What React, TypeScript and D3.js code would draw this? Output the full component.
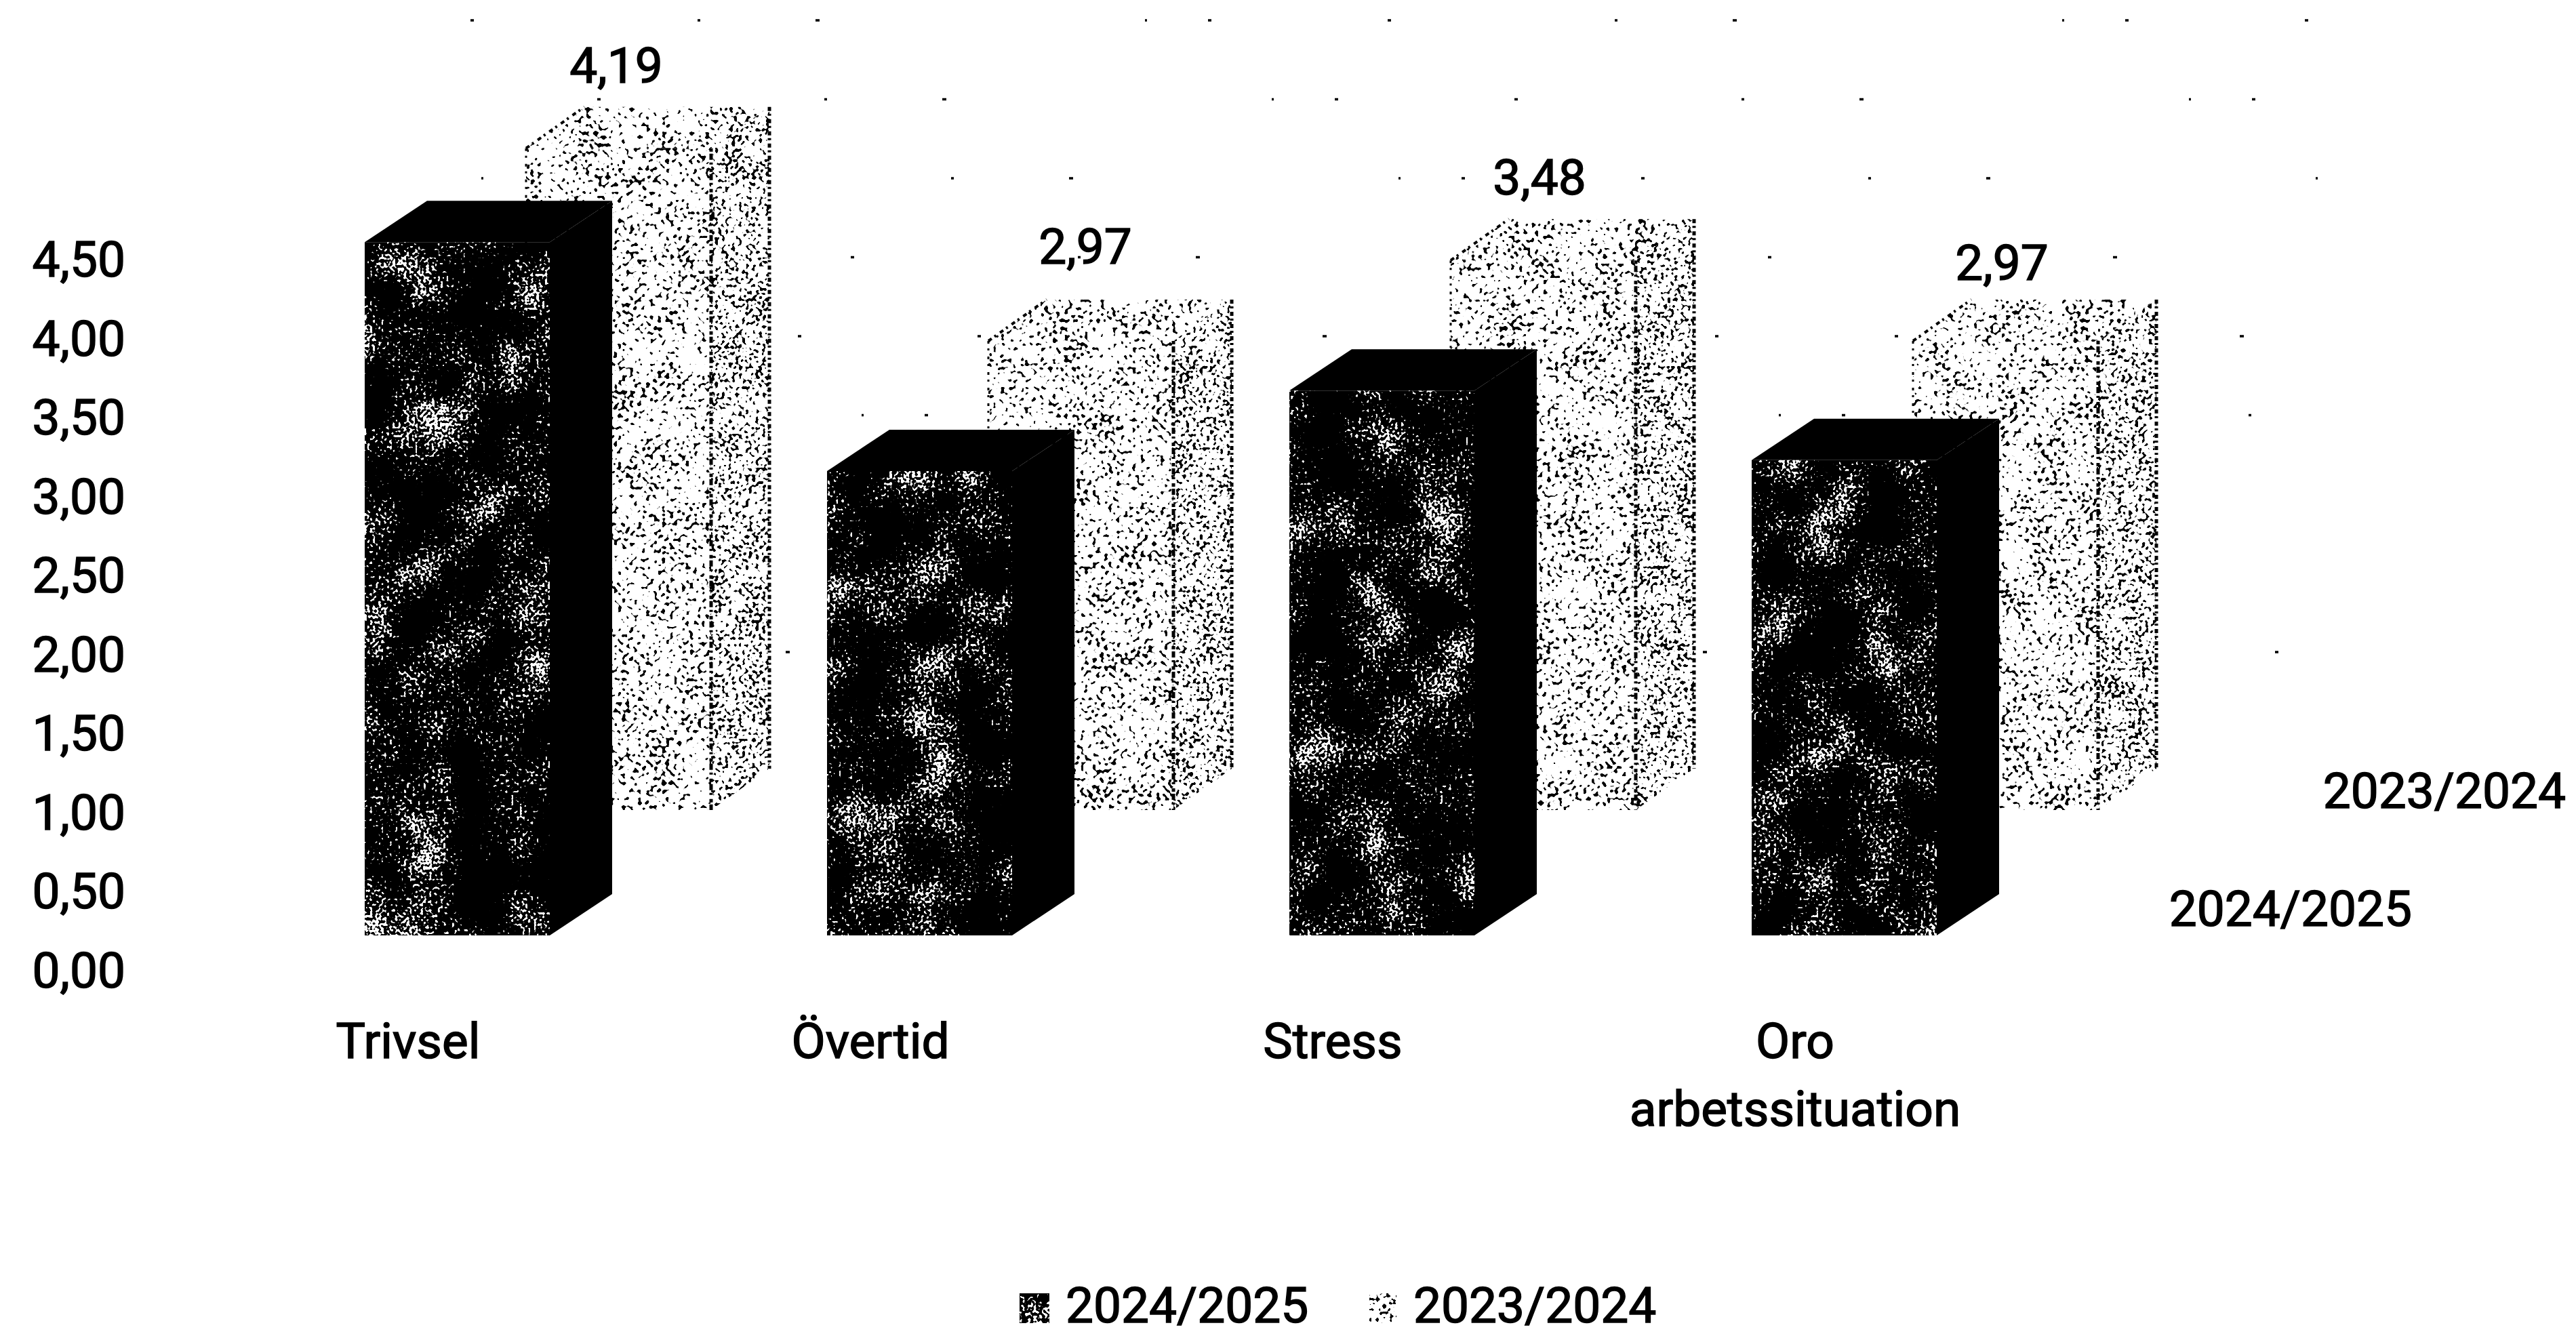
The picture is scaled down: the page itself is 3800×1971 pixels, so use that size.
import React from "react";
import * as d3 from "d3";

const categories = ["Trivsel", "Övertid", "Stress", "Oro arbetssituation"];
const categoryLines = [["Trivsel"], ["Övertid"], ["Stress"], ["Oro", "arbetssituation"]];
const series2425 = [4.39, 2.94, 3.45, 3.01];
const series2324 = [4.19, 2.97, 3.48, 2.97];
const axisTicks = [0, 0.5, 1, 1.5, 2, 2.5, 3, 3.5, 4, 4.5];
const gridTicks = [1, 2, 2.5, 3, 3.5, 4, 4.5, 5];
const seriesNames = ["2024/2025", "2023/2024"];

const W = 3800, H = 1971;
const FONT = "Roboto, 'Liberation Sans', sans-serif";
const FS = 73;
const BAR_W = 273, DY = 61;
const BACK_DX = 238;
const FRONT_FLOOR = 1380, BACK_FLOOR = 1195;
const labelGap = [36, 53, 36, 29];
const labelDx = [133, 143, 131, 131];

const x = d3.scaleBand<string>().domain(categories).range([538, 538 + 4 * 682]).paddingInner(0).paddingOuter(0);
const h = d3.scaleLinear().domain([0, 1]).range([0, 233]);
const axisY = d3.scaleLinear().domain([0, 4.5]).range([1457, 408]);
const fmt = (v: number) => d3.format(".2f")(v).replace(".", ",");
const pts = (p: number[][]) => d3.line()(p as [number, number][]) + "Z";

function Bar({ left, floor, value, kind }: { left: number; floor: number; value: number; kind: "front" | "back" }) {
  const DX = kind === "front" ? 92 : 86;
  const top = floor - h(value);
  const r = left + BAR_W;
  const face = pts([[left, top], [r, top], [r, floor], [left, floor]]);
  const topFace = pts([[left, top], [left + DX, top - DY], [r + DX, top - DY], [r, top]]);
  const side = pts([[r, top], [r + DX, top - DY], [r + DX, floor - DY], [r, floor]]);
  if (kind === "front") {
    return (
      <g>
        <path d={topFace} fill="#000" />
        <path d={side} fill="#000" />
        <path d={face} fill="#000" filter="url(#speckWhite)" />
      </g>
    );
  }
  return (
    <g>
      <path d={topFace} fill="#fff" filter="url(#speckBlack)" />
      <path d={face} fill="#fff" filter="url(#speckBlack)" />
      <path d={side} fill="#fff" filter="url(#speckBlackDense)" />
      <path d={`M${r},${top}V${floor}`} stroke="#000" strokeWidth={5} strokeDasharray="5 3 9 4 3 6" fill="none" />
      <path d={`M${r + DX},${top - DY}V${floor - DY}`} stroke="#000" strokeWidth={5} strokeDasharray="6 4 3 5" fill="none" />
      <path d={`M${left},${top}L${left + DX},${top - DY}`} stroke="#000" strokeWidth={4} strokeDasharray="6 5 3 7" fill="none" />
      <path d={`M${left},${top}V${floor}`} stroke="#000" strokeWidth={3} strokeDasharray="4 7 3 9" fill="none" />
    </g>
  );
}

const T = (p: any) => <text fontFamily={FONT} fontSize={FS} fill="#000" stroke="#000" strokeWidth={1.5} {...p} />;

const opaque = "1 0 0 0 0  0 1 0 0 0  0 0 1 0 0  0 0 0 0 1";

function Speck({ id, fine, coarse, seed, color, gain, offset, mixFine, mixCoarse }: any) {
  const c = color;
  return (
    <filter id={id} x="0" y="0" width="1" height="1" colorInterpolationFilters="sRGB">
      <feTurbulence type="fractalNoise" baseFrequency={fine} numOctaves="1" seed={seed} result="f0" />
      <feColorMatrix in="f0" type="matrix" values={opaque} result="f1" />
      <feTurbulence type="fractalNoise" baseFrequency={coarse} numOctaves="3" seed={seed + 5} result="c0" />
      <feColorMatrix in="c0" type="matrix" values={opaque} result="c1" />
      <feComposite in="f1" in2="c1" operator="arithmetic" k1="0" k2={mixFine} k3={mixCoarse} k4="0" result="mix" />
      <feColorMatrix in="mix" type="matrix" values={`0 0 0 0 ${c}  0 0 0 0 ${c}  0 0 0 0 ${c}  ${gain} 0 0 0 ${offset}`} result="dots" />
      <feComposite in="dots" in2="SourceAlpha" operator="in" result="clip" />
      <feMerge>
        <feMergeNode in="SourceGraphic" />
        <feMergeNode in="clip" />
      </feMerge>
    </filter>
  );
}

export default function App() {
  return (
    <svg width={W} height={H} viewBox={`0 0 ${W} ${H}`} style={{ position: "absolute", left: 0, top: 0, display: "block", background: "#fff" }}>
      <defs>
        <Speck id="speckWhite" fine="0.24" coarse="0.012" seed={4} color={1} gain={30} offset={-17.5} mixFine={0.6} mixCoarse={0.4} />
        <Speck id="speckBlack" fine="0.17" coarse="0.02" seed={7} color={0} gain={30} offset={-17.4} mixFine={0.8} mixCoarse={0.2} />
        <Speck id="speckBlackDense" fine="0.2" coarse="0.03" seed={12} color={0} gain={30} offset={-16.8} mixFine={0.8} mixCoarse={0.2} />
      </defs>

      {gridTicks.map((t, i) => (
        <line key={t} x1={650} x2={3460} y1={BACK_FLOOR - h(t)} y2={BACK_FLOOR - h(t)}
          stroke="#000" strokeWidth={3.5} strokeDasharray="5 330 4 170 6 480 3 90 5 260" strokeDashoffset={i * 187} />
      ))}

      {categories.map((c, i) => (
        <Bar key={c} left={(x(c) as number) + BACK_DX} floor={BACK_FLOOR} value={series2324[i]} kind="back" />
      ))}
      {categories.map((c, i) => (
        <Bar key={c} left={x(c) as number} floor={FRONT_FLOOR} value={series2425[i]} kind="front" />
      ))}

      {categories.map((c, i) => (
        <T key={c} x={(x(c) as number) + BACK_DX + labelDx[i]} y={BACK_FLOOR - h(series2324[i]) - DY - labelGap[i]} textAnchor="middle">
          {fmt(series2324[i])}
        </T>
      ))}

      {axisTicks.map((t) => (
        <T key={t} x={185} y={axisY(t)} textAnchor="end">{fmt(t)}</T>
      ))}

      {categories.map((c, i) => (
        <T key={c} x={(x(c) as number) + 64} y={1561} textAnchor="middle">
          {categoryLines[i].map((l, j) => (
            <tspan key={l} x={(x(c) as number) + 64} dy={j === 0 ? 0 : 100}>{l}</tspan>
          ))}
        </T>
      ))}

      <T x={3785} y={1192} textAnchor="end">{seriesNames[1]}</T>
      <T x={3558} y={1366} textAnchor="end">{seriesNames[0]}</T>

      <rect x={1504} y={1908} width={44} height={44} fill="#000" filter="url(#speckWhite)" />
      <T x={1572} y={1951}>{seriesNames[0]}</T>
      <rect x={2020} y={1908} width={40} height={44} fill="#fff" filter="url(#speckBlackDense)" />
      <T x={2085} y={1951}>{seriesNames[1]}</T>
    </svg>
  );
}
